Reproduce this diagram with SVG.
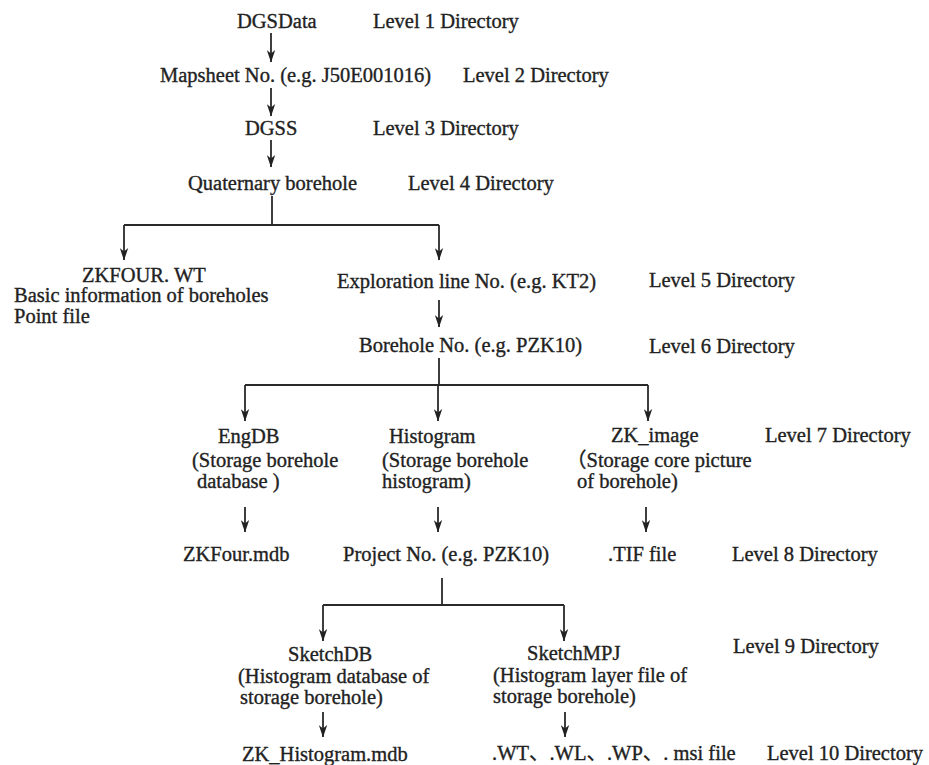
<svg xmlns="http://www.w3.org/2000/svg" width="929" height="765" viewBox="0 0 929 765">
<style>
text{font-family:"Liberation Serif","Times New Roman","Noto Sans CJK SC",serif;font-size:20.5px;fill:#222;stroke:#222;stroke-width:0.35}
.c{fill:none;stroke:#2a2a2a;stroke-width:1.8}
</style>
<defs>
<marker id="ah" markerUnits="userSpaceOnUse" markerWidth="13" markerHeight="9" refX="12" refY="4.5" orient="auto" viewBox="0 0 13 9">
<path d="M0,0.3 L12.5,4.5 L0,8.7 L3.5,4.5 z" fill="#222"/>
</marker>
</defs>
<rect width="929" height="765" fill="#fff"/>
<g id="connectors">
<path class="c" d="M271,33 V62" marker-end="url(#ah)"/>
<path class="c" d="M271,88 V116" marker-end="url(#ah)"/>
<path class="c" d="M271,140 V167" marker-end="url(#ah)"/>
<path class="c" d="M272,196 V225 M124,225 H439"/>
<path class="c" d="M124,225 V260" marker-end="url(#ah)"/>
<path class="c" d="M439,225 V260" marker-end="url(#ah)"/>
<path class="c" d="M439,300 V327" marker-end="url(#ah)"/>
<path class="c" d="M439,358 V385 M245,385 H648"/>
<path class="c" d="M245,385 V421" marker-end="url(#ah)"/>
<path class="c" d="M438,385 V421" marker-end="url(#ah)"/>
<path class="c" d="M648,385 V421" marker-end="url(#ah)"/>
<path class="c" d="M245,507 V532" marker-end="url(#ah)"/>
<path class="c" d="M438,507 V532" marker-end="url(#ah)"/>
<path class="c" d="M646,507 V532" marker-end="url(#ah)"/>
<path class="c" d="M442,578 V605 M323,605 H564"/>
<path class="c" d="M323,605 V641" marker-end="url(#ah)"/>
<path class="c" d="M564,605 V641" marker-end="url(#ah)"/>
<path class="c" d="M323,712 V737" marker-end="url(#ah)"/>
<path class="c" d="M565,712 V737" marker-end="url(#ah)"/>
</g>
<g id="n1"><text x="237" y="28">DGSData</text></g>
<g id="l1"><text x="373" y="28">Level 1 Directory</text></g>
<g id="n2"><text x="160" y="82">Mapsheet No. (e.g. J50E001016)</text></g>
<g id="l2"><text x="463" y="82">Level 2 Directory</text></g>
<g id="n3"><text x="245" y="135">DGSS</text></g>
<g id="l3"><text x="373" y="135">Level 3 Directory</text></g>
<g id="n4"><text x="188" y="190">Quaternary borehole</text></g>
<g id="l4"><text x="408" y="190">Level 4 Directory</text></g>
<g id="n5a"><text x="82" y="282">ZKFOUR. WT</text><text x="14" y="302">Basic information of boreholes</text><text x="14" y="323">Point file</text></g>
<g id="n5"><text x="337" y="288">Exploration line No. (e.g. KT2)</text></g>
<g id="l5"><text x="649" y="287">Level 5 Directory</text></g>
<g id="n6"><text x="359" y="352">Borehole No. (e.g. PZK10)</text></g>
<g id="l6"><text x="649" y="353">Level 6 Directory</text></g>
<g id="n7a"><text x="218" y="443">EngDB</text><text x="192" y="467">(Storage borehole</text><text x="197" y="488">database )</text></g>
<g id="n7b"><text x="389" y="443">Histogram</text><text x="382" y="467">(Storage borehole</text><text x="382" y="488">histogram)</text></g>
<g id="n7c"><text x="611" y="442">ZK_image</text><text x="566" y="467">（Storage core picture</text><text x="577" y="488">of borehole)</text></g>
<g id="l7"><text x="765" y="442">Level 7 Directory</text></g>
<g id="n8a"><text x="183" y="561">ZKFour.mdb</text></g>
<g id="n8b"><text x="343" y="561">Project No. (e.g. PZK10)</text></g>
<g id="n8c"><text x="608" y="561">.TIF file</text></g>
<g id="l8"><text x="732" y="561">Level 8 Directory</text></g>
<g id="n9a"><text x="288" y="661">SketchDB</text><text x="238" y="683">(Histogram database of</text><text x="240" y="704">storage borehole)</text></g>
<g id="n9b"><text x="527" y="660">SketchMPJ</text><text x="493" y="682">(Histogram layer file of</text><text x="493" y="703">storage borehole)</text></g>
<g id="l9"><text x="733" y="653">Level 9 Directory</text></g>
<g id="n10a"><text x="242" y="761">ZK_Histogram.mdb</text></g>
<g id="n10b"><text x="492" y="760">.WT、.WL、.WP、. msi file</text></g>
<g id="l10"><text x="767" y="760">Level 10 Directory</text></g>
</svg>
